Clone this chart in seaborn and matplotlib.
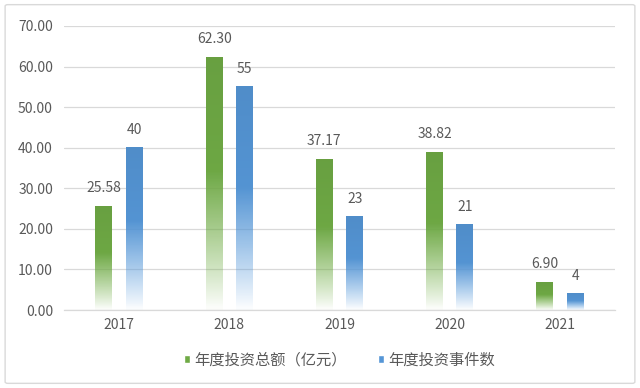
import numpy as np
import pandas as pd
import matplotlib
matplotlib.use("Agg")
import matplotlib.pyplot as plt
import seaborn as sns
from matplotlib.colors import to_rgb
from matplotlib.patches import FancyBboxPatch

years = ["2017", "2018", "2019", "2020", "2021"]
amount = [25.58, 62.30, 37.17, 38.82, 6.90]
events = [40, 55, 23, 21, 4]
series_names = ["年度投资总额（亿元）", "年度投资事件数"]
yticks = [0, 10, 20, 30, 40, 50, 60, 70]

df = pd.DataFrame({
    "year": years * 2,
    "value": amount + events,
    "series": [series_names[0]] * len(years) + [series_names[1]] * len(years),
})

sns.set_theme(style="white")
plt.rcParams["font.family"] = ["Noto Sans CJK SC", "DejaVu Sans"]

colors = {series_names[0]: "#6FAA45", series_names[1]: "#5596D6"}
text_c = "#595959"

fig = plt.figure(figsize=(6.4, 3.88), dpi=100)
ax = fig.add_axes([0.100, 0.201, 0.861, 0.732])

sns.barplot(data=df, x="year", y="value", hue="series", palette=colors,
            width=0.55, gap=0.44, ax=ax, saturation=1, legend=True)

ax.set_ylim(0, 70)
ax.set_yticks(yticks)
ax.set_yticklabels([f"{v:.2f}" for v in yticks])
ax.set_xlim(-0.5, len(years) - 0.5)
ax.grid(axis="y", color="#D9D9D9", linewidth=0.9)
ax.set_axisbelow(True)
for s in ["top", "right", "left"]:
    ax.spines[s].set_visible(False)
ax.spines["bottom"].set_color("#D9D9D9")
ax.spines["bottom"].set_linewidth(0.9)
ax.tick_params(axis="both", length=0, colors=text_c, labelsize=10)
ax.tick_params(axis="y", pad=8)
ax.tick_params(axis="x", pad=6)
ax.set_xlabel("")
ax.set_ylabel("")

# gradient fill for each bar: solid top, fading to white at the bottom
n = 256
t = np.linspace(0, 1, n)[:, None]
alpha = np.clip(t / 0.55, 0.02, 1.0) ** 0.9
shade = 0.92 + 0.08 * (1 - t)  # slightly darker toward the top
for cont in ax.containers:
    for p in cont.patches:
        x0, y0 = p.get_x(), p.get_y()
        w, h = p.get_width(), p.get_height()
        rgb = np.array(to_rgb(p.get_facecolor()))
        img = np.zeros((n, 1, 4))
        for k in range(3):
            img[..., k] = np.clip(rgb[k] * (0.94 + 0.1 * (1 - t)), 0, 1)
        img[..., 3] = alpha
        ax.imshow(img, extent=[x0, x0 + w, y0, y0 + h], origin="lower",
                  aspect="auto", zorder=2, interpolation="bilinear")
        p.set_facecolor("none")
        p.set_edgecolor("none")

ax.set_xlim(-0.5, len(years) - 0.5)
ax.set_ylim(0, 70)

ax.bar_label(ax.containers[0], labels=[f"{v:.2f}" for v in amount],
             padding=8, color=text_c, fontsize=10)
ax.bar_label(ax.containers[1], labels=[f"{v:d}" for v in events],
             padding=8, color=text_c, fontsize=10)

sns.move_legend(ax, "lower center", bbox_to_anchor=(0.5, -0.255), ncol=2,
                frameon=False, title=None, fontsize=11,
                handlelength=0.4, handleheight=0.4, handletextpad=0.3,
                columnspacing=2.0, labelcolor=text_c)

border = FancyBboxPatch((0.008, 0.012), 0.984, 0.976, transform=fig.transFigure,
                        boxstyle="round,pad=0,rounding_size=0.004",
                        facecolor="none", edgecolor="#D9D9D9", linewidth=1.0)
fig.patches.append(border)

fig.savefig("out.png", dpi=100)
